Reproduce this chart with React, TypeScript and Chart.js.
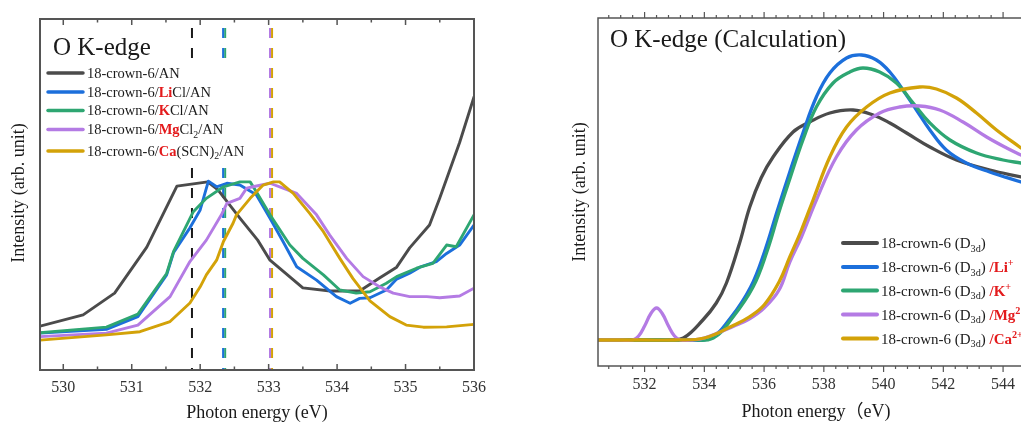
import React, { useEffect, useRef } from "react";
import { Chart, registerables } from "chart.js";

Chart.register(...registerables);

const SERIF = '"Liberation Serif", "Times New Roman", "Noto Sans CJK SC", serif';
const TEXT = "#1a1a1a";
const RED = "#e31a1c";
const AXIS = "#555555";

const C_BLACK = "#4b4b4b";
const C_BLUE = "#1c6fdb";
const C_GREEN = "#2ea672";
const C_PURPLE = "#b47be4";
const C_GOLD = "#d3a208";

// ---------- Left panel: measured O K-edge ----------
const expBlackX = [529.66, 530.29, 530.75, 531.22, 531.66, 532.11, 532.26, 532.58, 532.84, 533.02, 533.5, 533.9, 534.33, 534.62, 534.87, 535.06, 535.35, 535.5, 535.79, 536.0];
const expBlackY = [0.125, 0.157, 0.219, 0.35, 0.524, 0.536, 0.513, 0.433, 0.37, 0.313, 0.234, 0.225, 0.225, 0.262, 0.293, 0.348, 0.413, 0.49, 0.648, 0.778];

const expLiX = [529.66, 530.63, 531.09, 531.51, 531.61, 531.85, 532.0, 532.12, 532.24, 532.39, 532.58, 532.82, 533.02, 533.21, 533.41, 533.7, 533.99, 534.19, 534.33, 534.48, 534.72, 534.87, 535.06, 535.21, 535.45, 535.6, 535.79, 536.0];
const expLiY = [0.105, 0.116, 0.152, 0.271, 0.334, 0.405, 0.456, 0.538, 0.522, 0.532, 0.527, 0.499, 0.432, 0.366, 0.294, 0.256, 0.209, 0.19, 0.204, 0.206, 0.228, 0.259, 0.276, 0.293, 0.309, 0.332, 0.356, 0.413];

const expKX = [529.66, 530.63, 531.09, 531.51, 531.61, 531.9, 532.09, 532.34, 532.58, 532.73, 532.82, 533.02, 533.31, 533.5, 533.8, 534.04, 534.28, 534.48, 534.72, 534.87, 535.16, 535.4, 535.6, 535.74, 536.0];
const expKY = [0.106, 0.122, 0.159, 0.275, 0.337, 0.451, 0.489, 0.522, 0.536, 0.536, 0.508, 0.442, 0.356, 0.318, 0.271, 0.228, 0.219, 0.223, 0.247, 0.266, 0.29, 0.304, 0.356, 0.351, 0.442];

const expMgX = [529.66, 530.63, 531.09, 531.56, 531.85, 532.09, 532.31, 532.39, 532.58, 532.68, 532.77, 533.02, 533.21, 533.41, 533.7, 533.89, 534.14, 534.38, 534.62, 534.82, 535.06, 535.31, 535.5, 535.79, 536.0];
const expMgY = [0.095, 0.105, 0.128, 0.209, 0.309, 0.37, 0.442, 0.475, 0.489, 0.518, 0.522, 0.532, 0.518, 0.503, 0.442, 0.385, 0.318, 0.266, 0.237, 0.219, 0.209, 0.209, 0.206, 0.211, 0.233];

const expCaX = [529.66, 530.63, 531.12, 531.56, 531.85, 532.0, 532.09, 532.24, 532.34, 532.48, 532.53, 532.73, 532.92, 533.07, 533.16, 533.36, 533.6, 533.8, 534.04, 534.23, 534.48, 534.77, 535.01, 535.26, 535.6, 536.0];
const expCaY = [0.085, 0.1, 0.109, 0.138, 0.191, 0.237, 0.271, 0.313, 0.366, 0.418, 0.442, 0.489, 0.527, 0.536, 0.536, 0.503, 0.446, 0.394, 0.318, 0.261, 0.197, 0.152, 0.128, 0.122, 0.123, 0.13];

const edgeMarkX = [531.88, 532.335, 532.365, 533.02, 533.05];
const edgeMarkColors = ["#1a1a1a", C_BLUE, C_GREEN, C_PURPLE, C_GOLD];

const leftMajorTicks = [530, 531, 532, 533, 534, 535, 536];
const leftMinorTicks = [530.5, 531.5, 532.5, 533.5, 534.5, 535.5];

// ---------- Right panel: calculated O K-edge ----------
const calcBlackX = [530.44, 532.0, 532.8, 533.3, 533.95, 534.4, 534.74, 535.18, 535.52, 535.9, 536.3, 536.97, 537.53, 538.2, 538.98, 539.65, 540.21, 540.77, 541.55, 542.44, 543.56, 544.6];
const calcBlackY = [0, 0, 0, 0.02, 0.2, 0.37, 0.57, 0.97, 1.33, 1.62, 1.83, 2.08, 2.18, 2.27, 2.3, 2.25, 2.17, 2.07, 1.93, 1.8, 1.7, 1.63];

const calcLiX = [530.44, 532.5, 533.3, 534.2, 534.9, 535.55, 536.0, 536.45, 536.86, 537.3, 537.75, 538.2, 538.76, 539.26, 539.76, 540.21, 540.65, 541.1, 541.55, 542.1, 542.77, 543.55, 544.6];
const calcLiY = [0, 0, 0, 0.02, 0.23, 0.53, 0.87, 1.3, 1.68, 2.07, 2.43, 2.67, 2.82, 2.85, 2.8, 2.68, 2.5, 2.3, 2.1, 1.9, 1.77, 1.68, 1.58];

const calcKX = [530.44, 532.5, 533.5, 534.3, 534.96, 535.63, 536.08, 536.52, 536.86, 537.3, 537.75, 538.31, 538.87, 539.31, 539.87, 540.43, 540.99, 541.55, 542.22, 543.11, 544.0, 544.6];
const calcKY = [0, 0, 0, 0.02, 0.23, 0.53, 0.87, 1.3, 1.61, 2.0, 2.33, 2.57, 2.68, 2.72, 2.68, 2.57, 2.37, 2.17, 2.0, 1.87, 1.8, 1.77];

const calcMgX = [530.44, 531.2, 531.6, 531.8, 532.0, 532.2, 532.4, 532.6, 532.8, 533.0, 533.2, 533.6, 534.0, 535.0, 535.5, 536.0, 536.5, 536.86, 537.25, 537.75, 538.42, 539.09, 539.87, 540.54, 541.21, 541.88, 542.66, 543.45, 544.12, 544.6];
const calcMgY = [0, 0, 0, 0.04, 0.14, 0.26, 0.32, 0.26, 0.14, 0.04, 0, 0, 0.02, 0.14, 0.21, 0.32, 0.5, 0.78, 1.03, 1.4, 1.83, 2.1, 2.27, 2.33, 2.34, 2.3, 2.18, 2.03, 1.92, 1.85];

const calcCaX = [530.44, 532.0, 533.0, 534.0, 535.0, 535.5, 536.0, 536.5, 536.86, 537.25, 537.64, 538.2, 538.76, 539.43, 540.21, 541.21, 541.77, 542.44, 543.11, 543.78, 544.6];
const calcCaY = [0, 0, 0, 0.02, 0.15, 0.23, 0.35, 0.58, 0.83, 1.1, 1.4, 1.83, 2.13, 2.33, 2.47, 2.53, 2.51, 2.42, 2.27, 2.1, 1.92];

const rightMajorTicks = [532, 534, 536, 538, 540, 542, 544];

// ---------- legend texts ----------
type Seg = { t: string; b?: boolean; red?: boolean; sub?: boolean; sup?: boolean };

const leftLegend: Seg[][] = [
  [{ t: "18-crown-6/AN" }],
  [{ t: "18-crown-6/" }, { t: "Li", b: true, red: true }, { t: "Cl/AN" }],
  [{ t: "18-crown-6/" }, { t: "K", b: true, red: true }, { t: "Cl/AN" }],
  [{ t: "18-crown-6/" }, { t: "Mg", b: true, red: true }, { t: "Cl" }, { t: "2", sub: true }, { t: "/AN" }],
  [{ t: "18-crown-6/" }, { t: "Ca", b: true, red: true }, { t: "(SCN)" }, { t: "2", sub: true }, { t: "/AN" }],
];
const leftLegendColors = [C_BLACK, C_BLUE, C_GREEN, C_PURPLE, C_GOLD];
const leftLegendRows = [73, 92, 110.5, 129.5, 151];

const rightLegend: Seg[][] = [
  [{ t: "18-crown-6 (D" }, { t: "3d", sub: true }, { t: ")" }],
  [{ t: "18-crown-6 (D" }, { t: "3d", sub: true }, { t: ") " }, { t: "/Li", b: true, red: true }, { t: "+", b: true, red: true, sup: true }],
  [{ t: "18-crown-6 (D" }, { t: "3d", sub: true }, { t: ") " }, { t: "/K", b: true, red: true }, { t: "+", b: true, red: true, sup: true }],
  [{ t: "18-crown-6 (D" }, { t: "3d", sub: true }, { t: ") " }, { t: "/Mg", b: true, red: true }, { t: "2+", b: true, red: true, sup: true }],
  [{ t: "18-crown-6 (D" }, { t: "3d", sub: true }, { t: ") " }, { t: "/Ca", b: true, red: true }, { t: "2+", b: true, red: true, sup: true }],
];
const rightLegendColors = [C_BLACK, C_BLUE, C_GREEN, C_PURPLE, C_GOLD];
const rightLegendRows = [243, 267, 290.5, 314.5, 338.5];

// ---------- helpers ----------
const pts = (xs: number[], ys: number[]) => xs.map((x, i) => ({ x, y: ys[i] }));

function lineDs(label: string, xs: number[], ys: number[], color: string, width: number, smooth: boolean) {
  return {
    label,
    data: pts(xs, ys),
    borderColor: color,
    backgroundColor: color,
    borderWidth: width,
    pointRadius: 0,
    fill: false,
    tension: smooth ? 0.4 : 0,
    borderJoinStyle: "round",
    borderCapStyle: "round",
  };
}

function drawRich(ctx: CanvasRenderingContext2D, segs: Seg[], x: number, y: number, size: number) {
  let cx = x;
  ctx.textBaseline = "alphabetic";
  ctx.textAlign = "left";
  for (const s of segs) {
    const small = s.sub || s.sup;
    const sz = small ? size * 0.68 : size;
    ctx.font = `${s.b ? "bold " : ""}${sz}px ${SERIF}`;
    ctx.fillStyle = s.red ? RED : TEXT;
    const dy = s.sub ? size * 0.25 : s.sup ? -size * 0.38 : 0;
    ctx.fillText(s.t, cx, y + dy);
    cx += ctx.measureText(s.t).width;
  }
}

function baseOptions(xmin: number, xmax: number, ymin: number, ymax: number, padding: any) {
  return {
    animation: false,
    responsive: false,
    devicePixelRatio: 1,
    events: [],
    layout: { padding },
    plugins: { legend: { display: false }, tooltip: { enabled: false } },
    scales: {
      x: { type: "linear", min: xmin, max: xmax, display: false },
      y: { type: "linear", min: ymin, max: ymax, display: false },
    },
  };
}

const leftDeco = {
  id: "leftDeco",
  afterDraw(chart: any) {
    const { ctx, chartArea: a, scales } = chart;
    const xs = scales.x;
    ctx.save();
    // legend
    ctx.fillStyle = "#ffffff";
    ctx.fillRect(42, 63, 210, 100);
    leftLegend.forEach((segs, i) => {
      const y = leftLegendRows[i];
      ctx.strokeStyle = leftLegendColors[i];
      ctx.lineWidth = 3.5;
      ctx.lineCap = "round";
      ctx.beginPath();
      ctx.moveTo(48, y);
      ctx.lineTo(83, y);
      ctx.stroke();
      drawRich(ctx, segs, 87, y + 4.8, 14.5);
    });
    // title
    ctx.fillStyle = TEXT;
    ctx.font = `25px ${SERIF}`;
    ctx.textAlign = "left";
    ctx.textBaseline = "alphabetic";
    ctx.fillText("O K-edge", 53, 55);
    // frame
    ctx.strokeStyle = AXIS;
    ctx.lineWidth = 2;
    ctx.lineCap = "butt";
    ctx.strokeRect(a.left, a.top, a.right - a.left, a.bottom - a.top);
    // ticks (inward)
    ctx.lineWidth = 1.5;
    const tick = (v: number, len: number) => {
      const px = xs.getPixelForValue(v);
      ctx.beginPath();
      ctx.moveTo(px, a.bottom);
      ctx.lineTo(px, a.bottom - len);
      ctx.moveTo(px, a.top);
      ctx.lineTo(px, a.top + len);
      ctx.stroke();
    };
    leftMajorTicks.forEach((v) => tick(v, 6));
    leftMinorTicks.forEach((v) => tick(v, 3.5));
    // tick labels
    ctx.fillStyle = "#333";
    ctx.font = `16px ${SERIF}`;
    ctx.textAlign = "center";
    ctx.textBaseline = "middle";
    leftMajorTicks.forEach((v) => ctx.fillText(String(v), xs.getPixelForValue(v), 388));
    // axis titles
    ctx.fillStyle = TEXT;
    ctx.font = `18px ${SERIF}`;
    ctx.fillText("Photon energy (eV)", 257, 413);
    ctx.translate(19, 193);
    ctx.rotate(-Math.PI / 2);
    ctx.fillText("Intensity (arb. unit)", 0, 0);
    ctx.restore();
  },
};

const OFF = 530; // page x offset of right canvas

const rightDeco = {
  id: "rightDeco",
  afterDraw(chart: any) {
    const { ctx, chartArea: a, scales } = chart;
    const xs = scales.x;
    ctx.save();
    // legend
    rightLegend.forEach((segs, i) => {
      const y = rightLegendRows[i];
      ctx.strokeStyle = rightLegendColors[i];
      ctx.lineWidth = 4;
      ctx.lineCap = "round";
      ctx.beginPath();
      ctx.moveTo(843 - OFF, y);
      ctx.lineTo(877 - OFF, y);
      ctx.stroke();
      drawRich(ctx, segs, 881 - OFF, y + 5, 15);
    });
    // title
    ctx.fillStyle = TEXT;
    ctx.font = `25px ${SERIF}`;
    ctx.textAlign = "left";
    ctx.textBaseline = "alphabetic";
    ctx.fillText("O K-edge (Calculation)", 610 - OFF, 46.5);
    // frame (left, top, bottom)
    ctx.strokeStyle = AXIS;
    ctx.lineWidth = 1.5;
    ctx.lineCap = "butt";
    ctx.beginPath();
    ctx.moveTo(a.right + 2, a.top);
    ctx.lineTo(a.left, a.top);
    ctx.lineTo(a.left, a.bottom);
    ctx.lineTo(a.right + 2, a.bottom);
    ctx.stroke();
    // ticks (outward)
    ctx.lineWidth = 1.2;
    const tick = (v: number, len: number) => {
      const px = xs.getPixelForValue(v);
      ctx.beginPath();
      ctx.moveTo(px, a.bottom);
      ctx.lineTo(px, a.bottom + len);
      ctx.moveTo(px, a.top);
      ctx.lineTo(px, a.top - len);
      ctx.stroke();
    };
    rightMajorTicks.forEach((v) => tick(v, 6));
    for (let k = -4; k <= 30; k++) {
      const v = 532 + k * 0.4;
      if (Math.abs((v - 532) / 2 - Math.round((v - 532) / 2)) < 1e-6) continue;
      if (v < xs.min || v > xs.max) continue;
      tick(v, 3);
    }
    // tick labels
    ctx.fillStyle = "#333";
    ctx.font = `16px ${SERIF}`;
    ctx.textAlign = "center";
    ctx.textBaseline = "middle";
    rightMajorTicks.forEach((v) => ctx.fillText(String(v), xs.getPixelForValue(v), 385));
    // axis titles
    ctx.fillStyle = TEXT;
    ctx.font = `18px ${SERIF}`;
    ctx.fillText("Photon energy（eV)", 816 - OFF, 412);
    ctx.translate(580 - OFF, 192);
    ctx.rotate(-Math.PI / 2);
    ctx.fillText("Intensity (arb. unit)", 0, 0);
    ctx.restore();
  },
};

function leftConfig(): any {
  const marks = edgeMarkX.map((x, i) => ({
    label: "mark" + i,
    data: [{ x, y: 1 }, { x, y: 0 }],
    borderColor: edgeMarkColors[i],
    borderWidth: 2,
    borderDash: [10, 10],
    borderDashOffset: -9,
    pointRadius: 0,
    fill: false,
  }));
  return {
    type: "line",
    data: {
      datasets: [
        lineDs("18-crown-6/Ca(SCN)2/AN", expCaX, expCaY, C_GOLD, 2.9, false),
        lineDs("18-crown-6/MgCl2/AN", expMgX, expMgY, C_PURPLE, 2.9, false),
        lineDs("18-crown-6/KCl/AN", expKX, expKY, C_GREEN, 2.9, false),
        lineDs("18-crown-6/LiCl/AN", expLiX, expLiY, C_BLUE, 2.9, false),
        lineDs("18-crown-6/AN", expBlackX, expBlackY, C_BLACK, 2.9, false),
        ...marks,
      ],
    },
    options: baseOptions(529.66, 536, 0, 1, { left: 40, right: 46, top: 19, bottom: 54 }),
    plugins: [leftDeco],
  };
}

function rightConfig(): any {
  return {
    type: "line",
    data: {
      datasets: [
        lineDs("18-crown-6 (D3d) /Ca2+", calcCaX, calcCaY, C_GOLD, 3.3, true),
        lineDs("18-crown-6 (D3d) /Mg2+", calcMgX, calcMgY, C_PURPLE, 3.3, true),
        lineDs("18-crown-6 (D3d) /K+", calcKX, calcKY, C_GREEN, 3.3, true),
        lineDs("18-crown-6 (D3d) /Li+", calcLiX, calcLiY, C_BLUE, 3.3, true),
        lineDs("18-crown-6 (D3d)", calcBlackX, calcBlackY, C_BLACK, 3.3, true),
      ],
    },
    options: baseOptions(530.44, 544.6, -0.26, 3.22, { left: 68, right: 0, top: 18, bottom: 58 }),
    plugins: [rightDeco],
  };
}

export default function App() {
  const leftRef = useRef<HTMLCanvasElement>(null);
  const rightRef = useRef<HTMLCanvasElement>(null);
  useEffect(() => {
    const l = new Chart(leftRef.current as HTMLCanvasElement, leftConfig());
    const r = new Chart(rightRef.current as HTMLCanvasElement, rightConfig());
    return () => {
      l.destroy();
      r.destroy();
    };
  }, []);
  return (
    <div style={{ position: "fixed", left: 0, top: 0, width: 1021, height: 424, background: "#fff", overflow: "hidden" }}>
      <canvas ref={leftRef} width={520} height={424} style={{ position: "absolute", left: 0, top: 0, width: 520, height: 424 }} />
      <canvas ref={rightRef} width={491} height={424} style={{ position: "absolute", left: 530, top: 0, width: 491, height: 424 }} />
    </div>
  );
}
